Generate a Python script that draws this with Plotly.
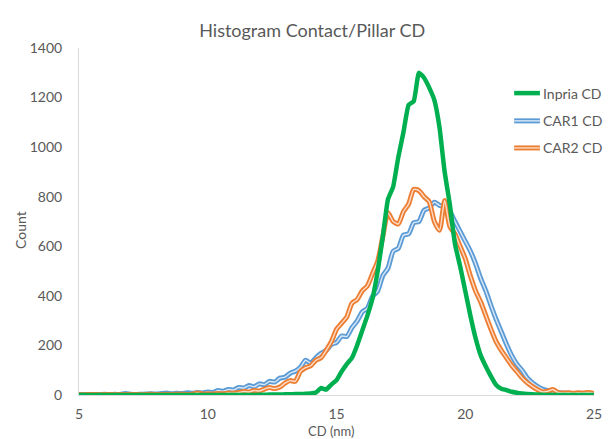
import numpy as np
import plotly.graph_objects as go

# Bin centres (nm), 0.2 nm bins from 5 to 25
cd_nm = np.round(np.arange(5.0, 25.0001, 0.2), 1)

inpria_cd = [
    0, 0, 0, 0, 0, 0, 0, 0, 0, 0,            # 5.0 - 6.8
    0, 0, 0, 0, 0, 0, 0, 0, 0, 0,            # 7.0 - 8.8
    0, 0, 0, 0, 0, 0, 0, 0, 0, 0,            # 9.0 - 10.8
    0, 0, 0, 0, 0, 1, 1, 2, 2, 2,            # 11.0 - 12.8
    3, 3, 4, 4, 5, 6, 10, 28, 22, 42,        # 13.0 - 14.8
    60, 95, 125, 150, 200, 260, 320, 390, 500, 640,   # 15.0 - 16.8
    790, 840, 960, 1060, 1170, 1185, 1300, 1280, 1240, 1190,  # 17.0 - 18.8
    1080, 900, 770, 610, 520, 420, 320, 230, 160, 115,  # 19.0 - 20.8
    75, 40, 25, 20, 13, 9, 6, 4, 3, 2,       # 21.0 - 22.8
    1, 0, 0, 0, 0, 0, 0, 0, 0, 0,            # 23.0 - 24.8
    0,                                       # 25.0
]

car1_cd = [
    2, 2, 1, 2, 2, 3, 2, 3, 2, 6,            # 5.0 - 6.8
    3, 2, 3, 4, 5, 4, 6, 8, 5, 7,            # 7.0 - 8.8
    6, 9, 7, 10, 8, 12, 10, 18, 15, 22,      # 9.0 - 10.8
    20, 30, 28, 38, 33, 45, 42, 55, 52, 68,  # 11.0 - 12.8
    72, 88, 96, 112, 140, 128, 150, 168, 180, 204,  # 13.0 - 14.8
    212, 238, 236, 272, 298, 335, 350, 398, 420, 482,  # 15.0 - 16.8
    512, 580, 592, 645, 650, 695, 700, 745, 755, 778,  # 17.0 - 18.8
    765, 760, 740, 700, 660, 620, 580, 530, 470, 420,  # 19.0 - 20.8
    360, 305, 255, 205, 160, 125, 100, 70, 50, 35,     # 21.0 - 22.8
    24, 18, 12, 10, 8, 7, 6, 5, 4, 4,        # 23.0 - 24.8
    3,                                       # 25.0
]

car2_cd = [
    2, 1, 2, 2, 1, 2, 2, 1, 2, 2,            # 5.0 - 6.8
    2, 2, 1, 2, 3, 2, 2, 3, 2, 3,            # 7.0 - 8.8
    3, 2, 3, 8, 4, 5, 4, 6, 5, 8,            # 9.0 - 10.8
    7, 10, 14, 12, 18, 16, 24, 30, 26, 32,   # 11.0 - 12.8
    48, 58, 55, 95, 110, 118, 140, 150, 180, 215,  # 13.0 - 14.8
    265, 290, 315, 370, 385, 420, 440, 490, 540, 640,  # 15.0 - 16.8
    735, 700, 690, 740, 770, 830, 825, 800, 780, 700,  # 17.0 - 18.8
    665, 785, 680, 650, 600, 550, 480, 420, 375, 320,  # 19.0 - 20.8
    265, 215, 180, 150, 120, 95, 70, 50, 35, 22,       # 21.0 - 22.8
    12, 15, 22, 10, 8, 9, 7, 9, 8, 10,       # 23.0 - 24.8
    6,                                       # 25.0
]

series_names = ["Inpria CD", "CAR1 CD", "CAR2 CD"]
series_values = [inpria_cd, car1_cd, car2_cd]
series_colors = ["#00B050", "#5B9BD5", "#ED7D31"]
series_inner = [None, "#dbe8f6", "#fbdcc8"]   # light centre stroke of the double lines

y_ticks = [0, 200, 400, 600, 800, 1000, 1200, 1400]
x_ticks = [5, 10, 15, 20, 25]

FONT = "Lato, 'Open Sans', sans-serif"
TEXT = "#595959"

fig = go.Figure()

# double (compound) lines for the two CAR series, drawn first
for name, vals, col, inner in zip(series_names[1:], series_values[1:],
                                  series_colors[1:], series_inner[1:]):
    fig.add_trace(go.Scatter(x=cd_nm, y=vals, mode="lines", name=name,
                             line=dict(color=col, width=5, shape="spline", smoothing=0.6),
                             hoverinfo="skip", showlegend=False))
    fig.add_trace(go.Scatter(x=cd_nm, y=vals, mode="lines", name=name,
                             line=dict(color=inner, width=1.4, shape="spline", smoothing=0.6),
                             showlegend=False))

# solid Inpria curve on top
fig.add_trace(go.Scatter(x=cd_nm, y=inpria_cd, mode="lines", name=series_names[0],
                         line=dict(color=series_colors[0], width=4.5, shape="spline",
                                   smoothing=0.4),
                         showlegend=False))

# legend entries (line sample + label)
legend_rows_y = [0.870, 0.790, 0.712]
for name, col, inner, yy in zip(series_names, series_colors, series_inner, legend_rows_y):
    fig.add_shape(type="line", xref="paper", yref="paper",
                  x0=0.845, x1=0.895, y0=yy, y1=yy,
                  line=dict(color=col, width=4.5 if inner is None else 5))
    if inner is not None:
        fig.add_shape(type="line", xref="paper", yref="paper",
                      x0=0.845, x1=0.895, y0=yy, y1=yy,
                      line=dict(color=inner, width=1.4))
    fig.add_annotation(text=name, xref="paper", yref="paper", x=0.898, y=yy,
                       xanchor="left", yanchor="middle", showarrow=False,
                       font=dict(family=FONT, size=14, color=TEXT))

# axis titles
fig.add_annotation(text="Count", xref="paper", yref="paper", x=-0.115, y=0.475,
                   textangle=-90, xanchor="center", yanchor="middle", showarrow=False,
                   font=dict(family=FONT, size=14, color=TEXT))
fig.add_annotation(text="CD (nm)", xref="paper", yref="paper", x=0.49, y=-0.103,
                   xanchor="center", yanchor="middle", showarrow=False,
                   font=dict(family=FONT, size=13, color=TEXT))

fig.update_layout(
    width=611, height=439,
    margin=dict(l=79, r=9, t=48, b=44),
    paper_bgcolor="white", plot_bgcolor="white",
    title=dict(text="Histogram Contact/Pillar CD", x=0.511, xref="container",
               y=1 - 31 / 439, yref="container", xanchor="center", yanchor="middle",
               font=dict(family=FONT, size=18, color=TEXT)),
    showlegend=False,
    xaxis=dict(range=[5, 25], tickvals=x_ticks, showgrid=False, zeroline=False,
               showline=True, linecolor="#d9d9d9", linewidth=1, ticks="",
               ticklabelstandoff=6,
               tickfont=dict(family=FONT, size=14, color=TEXT)),
    yaxis=dict(range=[0, 1400], tickvals=y_ticks, showgrid=False, zeroline=False,
               showline=True, linecolor="#d9d9d9", linewidth=1, ticks="",
               ticklabelstandoff=13,
               tickfont=dict(family=FONT, size=14, color=TEXT)),
)

fig.write_html("out.html")
